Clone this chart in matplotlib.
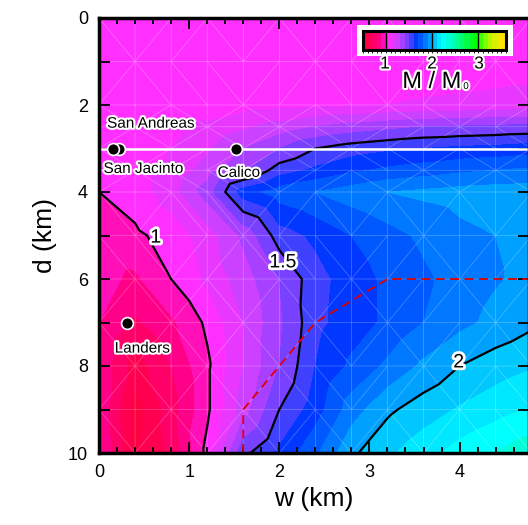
import numpy as np
import matplotlib
matplotlib.use("Agg")
import matplotlib.pyplot as plt
import matplotlib.tri as mtri
import matplotlib.patheffects as pe
from matplotlib.colors import ListedColormap, BoundaryNorm
from matplotlib.patches import Rectangle

plt.rcParams['font.family'] = ['Liberation Sans', 'DejaVu Sans']

# grid of the model: fault zone width w and depth d (km)
w_nodes = [0, 0.4, 0.8, 1.2, 1.6, 2.0, 2.4, 2.8, 3.2, 3.6, 4.0, 4.4, 4.8]
d_nodes = [0, 1, 2, 2.5, 3, 3.5, 4, 5, 6, 7, 8, 9, 10]

# M / M0, one row per depth
m_ratio = [
    [1.05, 1.05, 1.05, 1.05, 1.05, 1.05, 1.05, 1.05, 1.05, 1.05, 1.05, 1.05, 1.05],
    [1.05, 1.05, 1.05, 1.05, 1.05, 1.05, 1.05, 1.05, 1.05, 1.05, 1.05, 1.05, 1.05],
    [1.05, 1.05, 1.05, 1.05, 1.06, 1.07, 1.08, 1.09, 1.10, 1.11, 1.12, 1.13, 1.14],
    [1.05, 1.06, 1.08, 1.12, 1.18, 1.24, 1.30, 1.34, 1.37, 1.40, 1.41, 1.42, 1.43],
    [1.04, 1.06, 1.10, 1.18, 1.30, 1.40, 1.50, 1.55, 1.58, 1.60, 1.62, 1.63, 1.65],
    [1.02, 1.06, 1.12, 1.25, 1.38, 1.55, 1.62, 1.68, 1.72, 1.75, 1.78, 1.80, 1.82],
    [1.00, 1.05, 1.15, 1.35, 1.65, 1.75, 1.80, 1.85, 1.90, 1.92, 1.94, 1.95, 1.96],
    [0.96, 0.98, 1.04, 1.15, 1.32, 1.55, 1.62, 1.70, 1.76, 1.82, 1.87, 1.90, 1.93],
    [0.93, 0.88, 1.00, 1.12, 1.25, 1.40, 1.56, 1.65, 1.72, 1.78, 1.84, 1.89, 1.93],
    [0.90, 0.78, 0.88, 1.02, 1.20, 1.38, 1.57, 1.65, 1.72, 1.80, 1.87, 1.93, 1.98],
    [0.88, 0.65, 0.80, 0.98, 1.20, 1.40, 1.60, 1.72, 1.82, 1.92, 2.00, 2.05, 2.09],
    [0.88, 0.55, 0.75, 0.98, 1.25, 1.50, 1.65, 1.85, 1.98, 2.05, 2.11, 2.16, 2.21],
    [0.92, 0.58, 0.72, 1.03, 1.47, 1.62, 1.78, 1.98, 2.08, 2.16, 2.24, 2.30, 2.37],
]

# boundary (red dashed)
bound_w = [1.6, 1.6, 2.4, 3.2, 5.0]
bound_d = [10, 9, 7, 6, 6]

# earthquakes
quake_names = ["San Jacinto", "San Andreas", "Calico", "Landers"]
quake_w = [0.22, 0.15, 1.52, 0.31]
quake_d = [3.0, 3.0, 3.0, 7.0]

band_colors = ["#ff0040", "#ff0050", "#ff0068", "#ff0088", "#ff10b8",
               "#ff30ff", "#e838ff", "#cc40ff", "#a840ff", "#7840ff",
               "#4040ff", "#0038ff", "#0058ff", "#0078ff", "#00a0ff",
               "#00c8ff", "#00e8ff", "#00ffff", "#00ffd8", "#00ffb8",
               "#00ff98", "#00ff70", "#00ff48", "#00ff28", "#00ff00",
               "#40ff00", "#80ff00", "#b0f800", "#d8f000", "#f0e800",
               "#ffe000"]
levels = np.round(np.arange(0.5, 3.61, 0.1), 2)
cmap = ListedColormap(band_colors)
norm = BoundaryNorm(levels, cmap.N)

W, D = np.meshgrid(w_nodes, d_nodes)
M = np.array(m_ratio)
tri = mtri.Triangulation(W.ravel(), D.ravel())

fig = plt.figure(figsize=(5.28, 5.25), dpi=100)
ax = fig.add_axes([99/528, 1 - 453/525, (529 - 99)/528, (453 - 18)/525])

cf = ax.tricontourf(tri, M.ravel(), levels=levels, cmap=cmap, norm=norm)
ax.triplot(tri, color="white", lw=0.5, alpha=0.3)
ax.tricontour(tri, M.ravel(), levels=[1.0, 1.5, 2.0], colors="black", linewidths=1.6)

ax.plot(bound_w, bound_d, color="#e00000", lw=1.3, dashes=(5, 3))
ax.axhline(3.0, color="white", lw=1.8)

halo = [pe.withStroke(linewidth=3, foreground="white")]
for name, w, d in zip(quake_names, quake_w, quake_d):
    ax.plot(w, d, "o", ms=8.5, mfc="black", mec="white", mew=1.2, zorder=5)

ax.text(0.09, 2.43, "San Andreas", fontsize=11, ha="left", va="center", path_effects=halo)
ax.text(0.05, 3.47, "San Jacinto", fontsize=11, ha="left", va="center", path_effects=halo)
ax.text(1.55, 3.56, "Calico", fontsize=11, ha="center", va="center", path_effects=halo)
ax.text(0.48, 7.6, "Landers", fontsize=11, ha="center", va="center", path_effects=halo)

big_halo = [pe.withStroke(linewidth=4, foreground="white")]
ax.text(0.63, 5.06, "1", fontsize=14, ha="center", va="center", path_effects=big_halo, zorder=6)
ax.text(2.04, 5.63, "1.5", fontsize=14, ha="center", va="center", path_effects=big_halo, zorder=6)
ax.text(3.99, 7.93, "2", fontsize=14, ha="center", va="center", path_effects=big_halo, zorder=6)

ax.set_xlim(0, 4.77)
ax.set_ylim(10, 0)
ax.set_xticks([0, 1, 2, 3, 4])
ax.set_xticks(np.arange(0, 4.8, 0.2), minor=True)
ax.set_yticks([0, 2, 4, 6, 8, 10])
ax.set_yticks([1, 3, 5, 7, 9], minor=True)
ax.tick_params(which="both", direction="in", top=True, right=True, width=1.3, labelsize=13)
ax.tick_params(axis="x", which="major", length=8, pad=8)
ax.tick_params(axis="x", which="minor", length=4)
ax.tick_params(axis="y", which="both", length=8, pad=8)
for s in ax.spines.values():
    s.set_linewidth(2.5)
ax.set_xlabel("w (km)", fontsize=19, labelpad=4)
ax.set_ylabel("d (km)", fontsize=19, labelpad=8)

# inset colorbar
ax.add_patch(Rectangle(((357 - 99)/430, (453 - 56)/435), 156/430, 31/435,
                       transform=ax.transAxes, facecolor="white", edgecolor="none", zorder=8))
cax = fig.add_axes([363/528, 1 - 50/525, 143/528, 19/525])
cb = fig.colorbar(cf, cax=cax, orientation="horizontal")
cb.set_ticks([])
cb.outline.set_linewidth(2.2)
for v in [1, 2, 3]:
    cax.axvline(v, color="black", lw=1.0)

for v, x in zip([1, 2, 3], [385, 432, 479]):
    fig.text(x/528, 1 - 64/525, str(v), fontsize=12.5, ha="center", va="center", path_effects=halo)
fig.text(432/528, 1 - 82/525, "M / M", fontsize=17, ha="center", va="center", path_effects=halo)
fig.text(466/528, 1 - 86/525, "0", fontsize=7, ha="center", va="center", path_effects=halo)

fig.savefig("out.png", dpi=100)
